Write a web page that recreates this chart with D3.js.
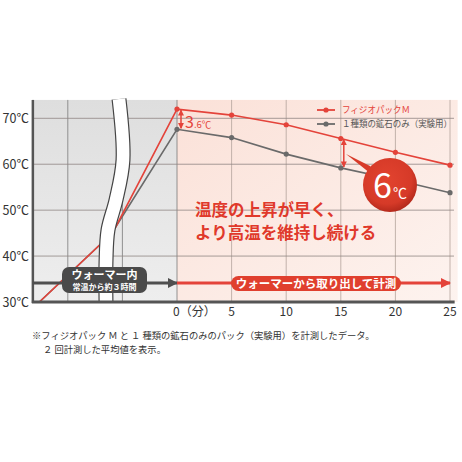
<!DOCTYPE html>
<html>
<head>
<meta charset="utf-8">
<script src="https://cdn.jsdelivr.net/npm/d3@7"></script>
<style>
  body { margin: 0; background: #fff; }
  text { font-family: "Noto Sans CJK JP", "Noto Sans", sans-serif; }
</style>
</head>
<body>
<div id="graph"></div>
<script>
// data
var minutes = [0, 5, 10, 15, 20, 25];
var physioM = [72.0, 70.7, 68.6, 65.6, 62.6, 59.8];
var oreOnly = [67.6, 65.8, 62.2, 59.2, 56.6, 53.8];
// warming phase (inside the warmer, broken axis)
var warmT = [-12.6, -6.6, -5.6];
var warmV = [30, 43.5, 46.4];
var xTicks = [0, 5, 10, 15, 20, 25];
var xGrid = [-10, -5, 0, 5, 10, 15, 20, 25];
var yTicks = [30, 40, 50, 60, 70];
var seriesNames = ["フィジオパックＭ", "１種類の鉱石のみ（実験用）"];

var width = 462, height = 462;
var red = "#e4433a", gray = "#6a6a6a";

var svg = d3.select("#graph").append("svg")
    .attr("width", width)
    .attr("height", height);

var x = d3.scaleLinear().domain([0, 25]).range([177, 450]);
var y = d3.scaleLinear().domain([30, 70]).range([302, 118.3]);
var xMin = -13.2, xMax = 25.7, yTop = 74;

var defs = svg.append("defs");
var gGray = defs.append("linearGradient").attr("id", "bgGray")
    .attr("x1", 0).attr("y1", 0).attr("x2", 0).attr("y2", 1);
gGray.append("stop").attr("offset", 0).attr("stop-color", "#dedede");
gGray.append("stop").attr("offset", 1).attr("stop-color", "#eeeeee");
var gPink = defs.append("linearGradient").attr("id", "bgPink")
    .attr("x1", 0).attr("y1", 0).attr("x2", 1).attr("y2", 1);
gPink.append("stop").attr("offset", 0).attr("stop-color", "#fbe1d8");
gPink.append("stop").attr("offset", 1).attr("stop-color", "#fdf3ef");
var gBub = defs.append("radialGradient").attr("id", "bub")
    .attr("cx", 0.45).attr("cy", 0.4).attr("r", 0.6);
gBub.append("stop").attr("offset", 0).attr("stop-color", "#e2432f");
gBub.append("stop").attr("offset", 0.75).attr("stop-color", "#d63a28");
gBub.append("stop").attr("offset", 1).attr("stop-color", "#b52a1c");

function marker(id, color, w, h) {
  defs.append("marker").attr("id", id)
      .attr("viewBox", "0 0 10 10").attr("refX", 9).attr("refY", 5)
      .attr("markerUnits", "userSpaceOnUse")
      .attr("markerWidth", w).attr("markerHeight", h)
      .attr("orient", "auto-start-reverse")
    .append("path").attr("d", "M0,0L10,5L0,10Z").attr("fill", color);
}
marker("arrGray", "#4f4f4f", 10, 10);
marker("arrRed", red, 10, 10);
marker("arrSmall", red, 6, 6);

// backgrounds
svg.append("rect")
    .attr("x", x(xMin)).attr("y", y(yTop))
    .attr("width", x(0) - x(xMin)).attr("height", y(30) - y(yTop))
    .attr("fill", "url(#bgGray)");
svg.append("rect")
    .attr("x", x(0)).attr("y", y(yTop))
    .attr("width", x(xMax) - x(0)).attr("height", y(30) - y(yTop))
    .attr("fill", "url(#bgPink)");

// grid
svg.append("g").selectAll("line").data(xGrid).join("line")
    .attr("x1", d => x(d)).attr("x2", d => x(d))
    .attr("y1", y(yTop)).attr("y2", y(30))
    .attr("stroke", d => d <= 0 ? "#7a7a7a" : "#b4a39c").attr("stroke-width", 0.8);
svg.append("g").selectAll("line").data(yTicks.slice(1)).join("line")
    .attr("x1", x(xMin)).attr("x2", x(25) + 4)
    .attr("y1", d => y(d)).attr("y2", d => y(d))
    .attr("stroke", "#8f8583").attr("stroke-width", 0.8);

// lines
var line = d3.line().x(d => x(d[0])).y(d => y(d[1]));
var warm = warmT.map((t, i) => [t, warmV[i]]);
var oreData = warm.concat(minutes.map((m, i) => [m, oreOnly[i]]));
var physData = warm.concat(minutes.map((m, i) => [m, physioM[i]]));

svg.append("path").datum(oreData).attr("d", line)
    .attr("fill", "none").attr("stroke", gray).attr("stroke-width", 1.6);
svg.append("path").datum(physData).attr("d", line)
    .attr("fill", "none").attr("stroke", red).attr("stroke-width", 1.6);
svg.append("g").selectAll("circle").data(minutes).join("circle")
    .attr("cx", d => x(d)).attr("cy", (d, i) => y(oreOnly[i])).attr("r", 2.6).attr("fill", gray);
svg.append("g").selectAll("circle").data(minutes).join("circle")
    .attr("cx", d => x(d)).attr("cy", (d, i) => y(physioM[i])).attr("r", 2.6).attr("fill", red);

// axis break
var brk = [[119, 99], [123, 160], [116, 200], [108, 230], [106, 262], [106, 302]];
var brkLine = d3.line().curve(d3.curveCatmullRom);
svg.append("path").attr("d", brkLine(brk))
    .attr("fill", "none").attr("stroke", "#444").attr("stroke-width", 15);
svg.append("path").attr("d", brkLine(brk))
    .attr("fill", "none").attr("stroke", "#fff").attr("stroke-width", 12.6);

// axes
svg.append("line").attr("x1", x(xMin)).attr("x2", x(xMin))
    .attr("y1", y(yTop)).attr("y2", y(30) + 1)
    .attr("stroke", "#555").attr("stroke-width", 2.5);
svg.append("line").attr("x1", x(xMin) - 1).attr("x2", x(xMax) - 3)
    .attr("y1", y(30)).attr("y2", y(30))
    .attr("stroke", "#555").attr("stroke-width", 2.8);

svg.append("g").selectAll("text").data(yTicks).join("text")
    .attr("x", 29).attr("y", d => y(d)).attr("dy", "0.36em")
    .attr("text-anchor", "end").attr("font-size", 12.5).attr("fill", "#333")
    .text(d => d + "℃");
svg.append("g").selectAll("text").data(xTicks).join("text")
    .attr("x", d => d === 0 ? x(d) - 4 : x(d))
    .attr("y", 316).attr("text-anchor", d => d === 0 ? "start" : "middle")
    .attr("font-size", 12).attr("fill", "#333")
    .text(d => d === 0 ? "0（分）" : d);

// phase arrows
var arrowY = 283;
svg.append("line").attr("x1", x(xMin)).attr("x2", x(0))
    .attr("y1", arrowY).attr("y2", arrowY)
    .attr("stroke", "#4f4f4f").attr("stroke-width", 3).attr("marker-end", "url(#arrGray)");
svg.append("line").attr("x1", x(0)).attr("x2", x(25))
    .attr("y1", arrowY).attr("y2", arrowY)
    .attr("stroke", red).attr("stroke-width", 3).attr("marker-end", "url(#arrRed)");

svg.append("rect").attr("x", 62).attr("y", 267).attr("width", 85).attr("height", 26)
    .attr("rx", 7).attr("fill", "#4a4a4a");
svg.append("text").attr("x", 104.5).attr("y", 278.5).attr("text-anchor", "middle")
    .attr("font-size", 11).attr("font-weight", "bold").attr("fill", "#fff").text("ウォーマー内");
svg.append("text").attr("x", 104.5).attr("y", 290).attr("text-anchor", "middle")
    .attr("font-size", 8).attr("font-weight", "bold").attr("fill", "#fff").text("常温から約３時間");

svg.append("rect").attr("x", 231).attr("y", 276).attr("width", 170).attr("height", 15)
    .attr("rx", 7.5).attr("fill", "#e03f2e");
svg.append("text").attr("x", 316).attr("y", 287.5).attr("text-anchor", "middle")
    .attr("font-size", 11.5).attr("font-weight", "bold").attr("fill", "#fff")
    .text("ウォーマーから取り出して計測");

// 3.6℃ annotation
svg.append("line").attr("x1", x(0) + 4).attr("x2", x(0) + 4)
    .attr("y1", y(physioM[0]) + 1).attr("y2", y(oreOnly[0]) - 1)
    .attr("stroke", red).attr("stroke-width", 1.5)
    .attr("marker-start", "url(#arrSmall)").attr("marker-end", "url(#arrSmall)");
var t36 = svg.append("text").attr("x", x(0) + 8).attr("y", 128).attr("fill", red);
t36.append("tspan").attr("font-size", 16).text("3");
t36.append("tspan").attr("font-size", 9.5).text(".6℃");

// 6℃ annotation
svg.append("line").attr("x1", x(15) + 3).attr("x2", x(15) + 3)
    .attr("y1", y(physioM[3]) + 1).attr("y2", y(oreOnly[3]) - 1)
    .attr("stroke", red).attr("stroke-width", 1.5)
    .attr("marker-start", "url(#arrSmall)").attr("marker-end", "url(#arrSmall)");
svg.append("path").attr("d", "M346,154L370,166L380,181Z").attr("fill", "#d83a29");
svg.append("circle").attr("cx", 390).attr("cy", 185).attr("r", 27).attr("fill", "url(#bub)");
var t6 = svg.append("text").attr("x", 373).attr("y", 198).attr("fill", "#fff");
t6.append("tspan").attr("font-size", 34).text("6");
t6.append("tspan").attr("font-size", 14).attr("dx", 1).text("℃");

// message
svg.append("text").attr("x", 195).attr("y", 216).attr("font-size", 16.5)
    .attr("font-weight", "bold").attr("fill", "#e0392b").text("温度の上昇が早く、");
svg.append("text").attr("x", 195).attr("y", 239).attr("font-size", 16.5)
    .attr("font-weight", "bold").attr("fill", "#e0392b").text("より高温を維持し続ける");

// legend
var legendW = [68, 110];
var legend = svg.append("g").selectAll("g").data(seriesNames).join("g")
    .attr("transform", (d, i) => "translate(317," + (110 + i * 14) + ")");
legend.append("line").attr("x1", 0).attr("x2", 18)
    .attr("stroke", (d, i) => i ? gray : red).attr("stroke-width", 1.8);
legend.append("circle").attr("cx", 9).attr("r", 2.6).attr("fill", (d, i) => i ? gray : red);
legend.append("text").attr("x", 25).attr("dy", "0.35em").attr("font-size", 9)
    .attr("textLength", (d, i) => legendW[i]).attr("lengthAdjust", "spacingAndGlyphs")
    .attr("fill", (d, i) => i ? "#555" : red).text(d => d);

// footnote
svg.append("text").attr("x", 32).attr("y", 339).attr("font-size", 9.3).attr("fill", "#333")
    .text("※フィジオパック Ｍ と １ 種類の鉱石のみのパック（実験用）を計測したデータ。");
svg.append("text").attr("x", 43).attr("y", 353).attr("font-size", 9.3).attr("fill", "#333")
    .text("２ 回計測した平均値を表示。");
</script>
</body>
</html>
